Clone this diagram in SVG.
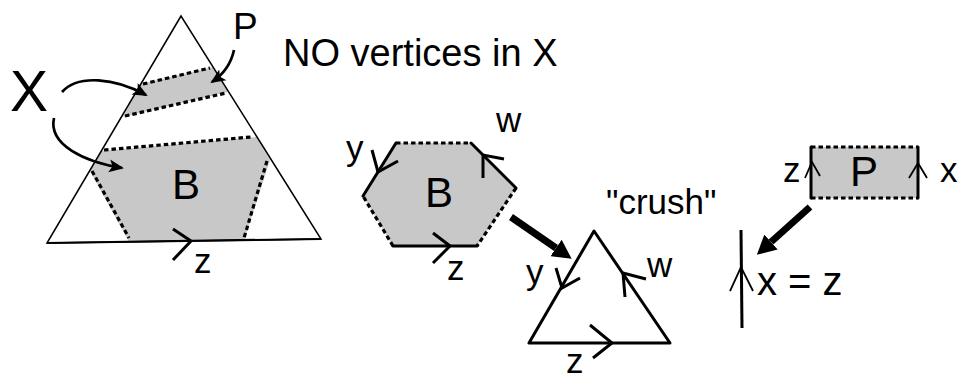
<svg xmlns="http://www.w3.org/2000/svg" width="961" height="375" viewBox="0 0 961 375">
<style>
text{font-family:"Liberation Sans",Arial,sans-serif;fill:#000}
.grey{fill:#c8c8c8;stroke:none}
.thin{fill:none;stroke:#000;stroke-width:1.5}
.solid{fill:none;stroke:#000;stroke-width:3;stroke-linecap:round;stroke-linejoin:round}
.dash{fill:none;stroke:#000;stroke-width:3.2;stroke-dasharray:4.5,3}
.chev{fill:none;stroke:#000;stroke-width:3;stroke-linecap:butt;stroke-linejoin:miter}
.chevthin{fill:none;stroke:#000;stroke-width:1.8;stroke-linejoin:miter}
.curve{fill:none;stroke:#000;stroke-width:2.7;marker-end:url(#small)}
.thick{fill:none;stroke:#000;stroke-width:7;marker-end:url(#big)}
.lbl{font-size:35px}
.big{font-size:42px}
</style>
<defs>
<marker id="small" viewBox="0 -7 15 14" refX="13" refY="0" markerWidth="15" markerHeight="14" markerUnits="userSpaceOnUse" orient="auto">
<path d="M0,-6.5 L15,0 L0,6.5 L3.5,0 z" fill="#000"/>
</marker>
<marker id="big" viewBox="0 -10 19 20" refX="0" refY="0" markerWidth="19" markerHeight="20" markerUnits="userSpaceOnUse" orient="auto">
<path d="M0,-10 L19,0 L0,10 z" fill="#000"/>
</marker>
</defs>

<g id="big-triangle">
<polygon class="grey" points="141,84 213,67 228,92 123,117"/>
<polygon class="grey" points="101,151 256,137 270,160 244,240.5 129,241.8 90,171"/>
<polygon class="thin" points="181,16 47,243 321,239"/>
<line x1="47" y1="243" x2="321" y2="239" stroke="#000" stroke-width="2.2"/>
<line class="dash" x1="143" y1="84" x2="210" y2="68"/>
<line class="dash" x1="125" y1="116" x2="226" y2="93"/>
<line class="dash" x1="104" y1="150" x2="251" y2="137"/>
<line class="dash" x1="267" y1="161" x2="244" y2="238"/>
<line class="dash" x1="92" y1="171" x2="129" y2="238"/>
<polyline class="chev" points="173,229 191,241 173,260"/>
<text class="big" x="172" y="199">B</text>
<text class="lbl" x="194" y="273">z</text>
</g>

<g id="label-X">
<text x="10" y="111" font-size="57px">X</text>
</g>
<g id="label-P">
<text x="233" y="39" font-size="37px">P</text>
</g>
<g id="caption">
<text x="283" y="66" font-size="38px">NO vertices in X</text>
</g>

<g id="hexagon">
<polygon class="grey" points="396,143 471,143 516,188 477,246 393,246 363,196"/>
<line class="dash" x1="396" y1="143" x2="471" y2="143"/>
<line class="dash" x1="516" y1="188" x2="477" y2="246"/>
<line class="dash" x1="393" y1="246" x2="363" y2="196"/>
<line class="solid" x1="471" y1="143" x2="516" y2="188"/>
<line class="solid" x1="477" y1="246" x2="393" y2="246"/>
<line class="solid" x1="363" y1="196" x2="396" y2="143"/>
<polyline class="chev" points="504,159 483,155 483,178"/>
<polyline class="chev" points="372,150 378,172 398,161"/>
<polyline class="chev" points="433,233 450,246 433,263"/>
<text class="big" x="425" y="207">B</text>
<text class="lbl" x="346" y="160">y</text>
<text class="lbl" x="496" y="132">w</text>
<text class="lbl" x="447" y="280">z</text>
</g>

<g id="crushed-triangle">
<polygon class="solid" points="594,231 529,343 670,343"/>
<polyline class="chev" points="556,268 562,288 580,278"/>
<polyline class="chev" points="646,279 623,273 625,297"/>
<polyline class="chev" points="590,325 612,343 593,358"/>
<text class="lbl" x="526" y="284">y</text>
<text class="lbl" x="647" y="277">w</text>
<text class="lbl" x="566" y="373">z</text>
</g>
<g id="label-crush">
<text class="lbl" x="606" y="214">"crush"</text>
</g>

<g id="rect-P">
<rect class="grey" x="811" y="147" width="107" height="51"/>
<line class="dash" x1="811" y1="147" x2="918" y2="147" stroke-width="2.6"/>
<line class="dash" x1="811" y1="198" x2="918" y2="198" stroke-width="2.6"/>
<line class="solid" x1="811" y1="147" x2="811" y2="198"/>
<line class="solid" x1="918" y1="147" x2="918" y2="198"/>
<polyline class="chevthin" points="805,178 812,162 820,176"/>
<polyline class="chevthin" points="909,178 918,163 927,178"/>
<text class="big" x="850" y="186">P</text>
<text class="lbl" x="783" y="182">z</text>
<text class="lbl" x="940" y="182">x</text>
</g>

<g id="collapsed-edge">
<line x1="741" y1="230" x2="742" y2="328" stroke="#000" stroke-width="3"/>
<polyline class="chevthin" points="730,291 741,267 753,291"/>
<text x="757" y="295" font-size="40px">x = z</text>
</g>

<g id="connectors">
<path class="curve" d="M62,92 C78,74 115,78 146,95"/>
<path class="curve" d="M54,118 C48,145 85,162 122,168"/>
<path class="curve" d="M234,50 C231,64 224,74 212,82"/>
<line class="thick" x1="511" y1="217" x2="556" y2="248"/>
<line class="thick" x1="810" y1="207" x2="771" y2="242"/>
</g>
</svg>
